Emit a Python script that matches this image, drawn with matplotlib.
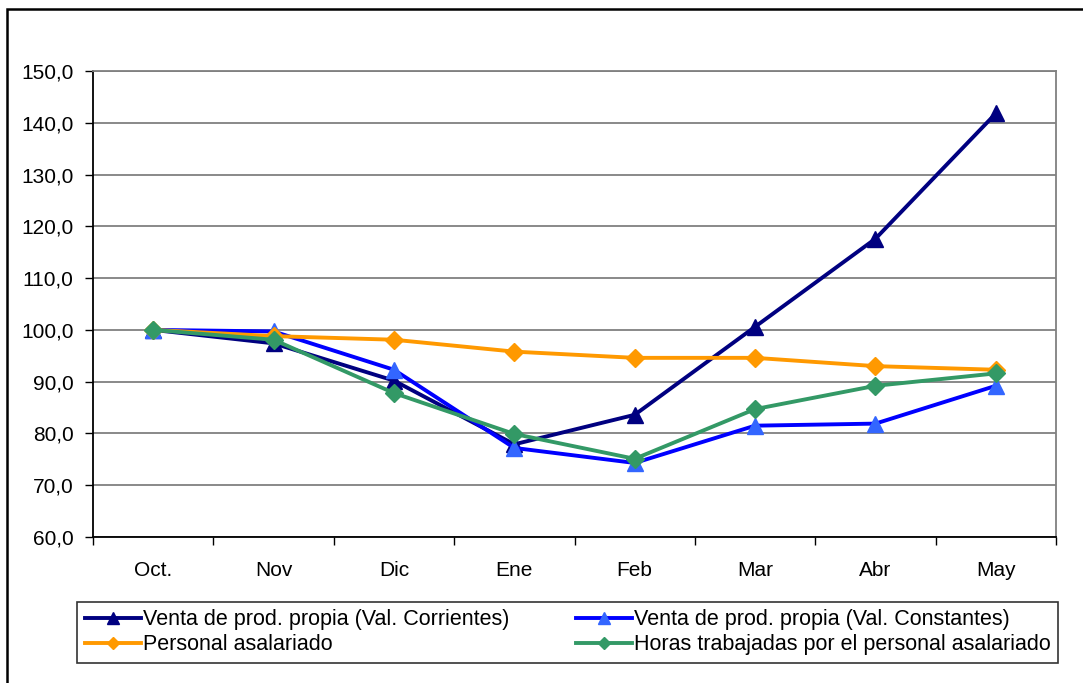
import matplotlib
matplotlib.use("Agg")
from matplotlib import pyplot as plt
from matplotlib.patches import Rectangle
from matplotlib.ticker import FuncFormatter, MultipleLocator
import numpy as np

plt.rcParams['font.family'] = ['Liberation Sans', 'DejaVu Sans']

months = ["Oct.", "Nov", "Dic", "Ene", "Feb", "Mar", "Abr", "May"]

venta_corrientes = [100.0, 97.4, 90.2, 77.9, 83.6, 100.6, 117.6, 141.8]
venta_constantes = [100.0, 99.7, 92.3, 77.2, 74.3, 81.5, 81.9, 89.2]
personal = [100.0, 98.8, 98.1, 95.8, 94.6, 94.6, 93.0, 92.3]
horas = [100.0, 98.1, 87.8, 79.9, 75.1, 84.7, 89.2, 91.6]

series_labels = ["Venta de prod. propia (Val. Corrientes)",
                 "Venta de prod. propia (Val. Constantes)",
                 "Personal asalariado",
                 "Horas trabajadas por el personal asalariado"]

W, H = 1083, 683
fig = plt.figure(figsize=(W / 100, H / 100), dpi=100)

# outer chart frame (cropped on right and bottom like the original)
fig.patches.append(Rectangle((7 / W, -0.05), 1.1, (H - 9) / H + 0.05,
                             transform=fig.transFigure, fill=False,
                             edgecolor="black", linewidth=1.8))

ax = fig.add_axes([93 / W, (H - 537) / H, (1056 - 93) / W, (537 - 71) / H])

x = np.arange(len(months))
l1, = ax.plot(x, venta_corrientes, color="#000080", lw=2.8, marker="^", ms=12,
              mfc="#000080", mec="#000080", label=series_labels[0])
l2, = ax.plot(x, venta_constantes, color="#0000FF", lw=2.8, marker="^", ms=12,
              mfc="#3366FF", mec="#3366FF", label=series_labels[1])
l3, = ax.plot(x, personal, color="#FF9900", lw=2.8, marker="D", ms=9,
              mfc="#FF9900", mec="#FF9900", label=series_labels[2])
l4, = ax.plot(x, horas, color="#339966", lw=2.8, marker="D", ms=9,
              mfc="#339966", mec="#339966", label=series_labels[3])

ax.set_xlim(-0.5, len(months) - 0.5)
ax.set_ylim(60, 150)
ax.yaxis.set_major_locator(MultipleLocator(10))
ax.yaxis.set_major_formatter(FuncFormatter(lambda v, p: f"{v:.1f}".replace(".", ",")))
ax.grid(axis="y", color="#808080", lw=1.3)
ax.set_axisbelow(True)

ax.set_xticks(x)
ax.set_xticklabels(months)
ax.set_xticks(np.arange(-0.5, len(months), 1), minor=True)
ax.tick_params(axis="x", which="major", length=0, pad=17, labelsize=15)
ax.tick_params(axis="x", which="minor", length=6, width=1, direction="out")
ax.tick_params(axis="y", length=6, width=1, direction="out", pad=8, labelsize=15)

ax.spines["left"].set_color("black")
ax.spines["bottom"].set_color("black")
ax.spines["right"].set_color("#808080")
ax.spines["top"].set_color("#808080")
for s in ax.spines.values():
    s.set_linewidth(1.3)

# legend filled row by row, as in the original
handles = [l1, l3, l2, l4]
leg = fig.legend(handles, [h.get_label() for h in handles], loc="lower left",
                 bbox_to_anchor=(77 / W, (H - 663) / H, (1058 - 77) / W, 64 / H),
                 mode="expand", ncol=2, fontsize=15.5, frameon=True,
                 fancybox=False, edgecolor="black", borderaxespad=0,
                 handlelength=2.6, handletextpad=0.1, labelspacing=0.2,
                 borderpad=0.35, markerscale=0.7)
leg.get_frame().set_linewidth(1.2)

fig.savefig("out.png", dpi=100)
